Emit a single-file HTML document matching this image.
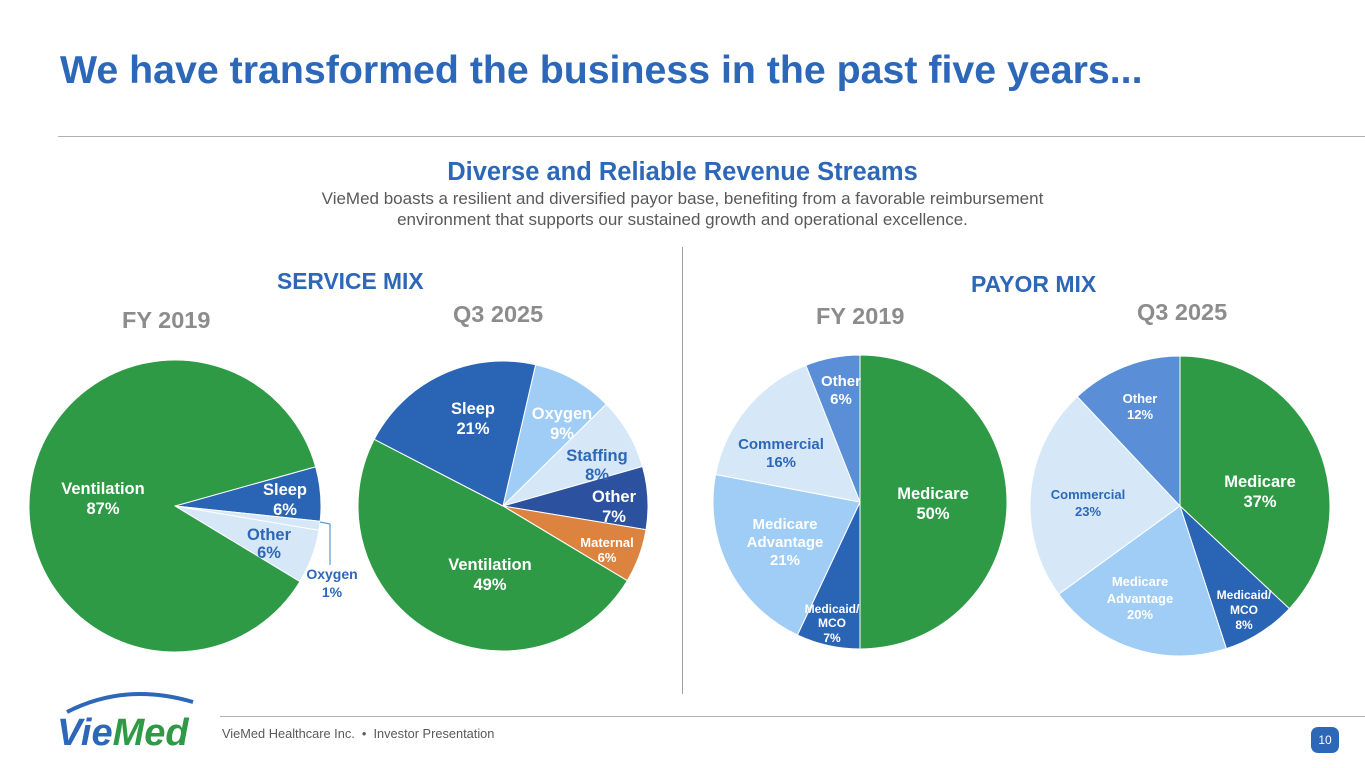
<!DOCTYPE html>
<html><head><meta charset="utf-8">
<style>
body{margin:0;width:1365px;height:768px;overflow:hidden;background:#fff;font-family:"Liberation Sans",Arial,sans-serif;position:relative}
.t{position:absolute;white-space:nowrap}
#chart text{font-family:"Liberation Sans",Arial,sans-serif;font-weight:bold;text-anchor:middle}
</style></head><body>
<div class="t" style="left:60px;top:48px;font-size:39.3px;font-weight:bold;color:#2d67b8">We have transformed the business in the past five years...</div>
<div style="position:absolute;left:58px;top:136px;width:1307px;height:1px;background:#b0b0b0"></div>
<div class="t" style="left:0;width:1365px;text-align:center;top:158px;font-size:25.5px;font-weight:bold;color:#2d67b8">Diverse and Reliable Revenue Streams</div>
<div class="t" style="left:0;width:1365px;text-align:center;top:188px;font-size:17px;color:#595959;line-height:21px">VieMed boasts a resilient and diversified payor base, benefiting from a favorable reimbursement<br>environment that supports our sustained growth and operational excellence.</div>
<div style="position:absolute;left:682px;top:247px;width:1px;height:447px;background:#a0a0a0"></div>
<div class="t" style="left:277px;top:268px;font-size:22.8px;font-weight:bold;color:#2d67b8">SERVICE MIX</div>
<div class="t" style="left:971px;top:271px;font-size:23px;font-weight:bold;color:#2d67b8">PAYOR MIX</div>
<div class="t" style="left:122px;top:307px;font-size:23.5px;font-weight:bold;color:#8c8c8c">FY 2019</div>
<div class="t" style="left:453px;top:301px;font-size:23.5px;font-weight:bold;color:#8c8c8c">Q3 2025</div>
<div class="t" style="left:816px;top:303px;font-size:23.5px;font-weight:bold;color:#8c8c8c">FY 2019</div>
<div class="t" style="left:1137px;top:299px;font-size:23.5px;font-weight:bold;color:#8c8c8c">Q3 2025</div>

<svg id="chart" width="1365" height="768" style="position:absolute;left:0;top:0">
<g id="slices"></g>
<g id="labels">
<text x="103" y="494" fill="#fff" font-size="16.5">Ventilation</text><text x="103" y="514" fill="#fff" font-size="16.5">87%</text>
<text x="285" y="495" fill="#fff" font-size="16.5">Sleep</text><text x="285" y="515" fill="#fff" font-size="16.5">6%</text>
<text x="269" y="540" fill="#2d67b8" font-size="16.5">Other</text><text x="269" y="558" fill="#2d67b8" font-size="16.5">6%</text>
<polyline points="320,522 330,524 330,565" fill="none" stroke="#5b9bd5" stroke-width="1.2"/>
<text x="332" y="579" fill="#2d67b8" font-size="14">Oxygen</text><text x="332" y="597" fill="#2d67b8" font-size="14">1%</text>
<text x="473" y="414" fill="#fff" font-size="16.5">Sleep</text><text x="473" y="434" fill="#fff" font-size="16.5">21%</text>
<text x="562" y="419" fill="#fff" font-size="16.5">Oxygen</text><text x="562" y="439" fill="#fff" font-size="16.5">9%</text>
<text x="597" y="461" fill="#2d67b8" font-size="16.5">Staffing</text><text x="597" y="480" fill="#2d67b8" font-size="16.5">8%</text>
<text x="614" y="502" fill="#fff" font-size="16.5">Other</text><text x="614" y="522" fill="#fff" font-size="16.5">7%</text>
<text x="607" y="547" fill="#fff" font-size="13">Maternal</text><text x="607" y="562" fill="#fff" font-size="13">6%</text>
<text x="490" y="570" fill="#fff" font-size="16.5">Ventilation</text><text x="490" y="590" fill="#fff" font-size="16.5">49%</text>
<text x="933" y="499" fill="#fff" font-size="16.5">Medicare</text><text x="933" y="519" fill="#fff" font-size="16.5">50%</text>
<text x="841" y="386" fill="#fff" font-size="15">Other</text><text x="841" y="404" fill="#fff" font-size="15">6%</text>
<text x="781" y="449" fill="#2d67b8" font-size="15">Commercial</text><text x="781" y="467" fill="#2d67b8" font-size="15">16%</text>
<text x="785" y="529" fill="#fff" font-size="15">Medicare</text><text x="785" y="547" fill="#fff" font-size="15">Advantage</text><text x="785" y="565" fill="#fff" font-size="15">21%</text>
<text x="832" y="613" fill="#fff" font-size="12">Medicaid/</text><text x="832" y="627" fill="#fff" font-size="12">MCO</text><text x="832" y="642" fill="#fff" font-size="12">7%</text>
<text x="1260" y="487" fill="#fff" font-size="16.5">Medicare</text><text x="1260" y="507" fill="#fff" font-size="16.5">37%</text>
<text x="1140" y="403" fill="#fff" font-size="13">Other</text><text x="1140" y="419" fill="#fff" font-size="13">12%</text>
<text x="1088" y="499" fill="#2d67b8" font-size="13">Commercial</text><text x="1088" y="516" fill="#2d67b8" font-size="13">23%</text>
<text x="1140" y="586" fill="#fff" font-size="13">Medicare</text><text x="1140" y="603" fill="#fff" font-size="13">Advantage</text><text x="1140" y="619" fill="#fff" font-size="13">20%</text>
<text x="1244" y="599" fill="#fff" font-size="12">Medicaid/</text><text x="1244" y="614" fill="#fff" font-size="12">MCO</text><text x="1244" y="629" fill="#fff" font-size="12">8%</text>
</g>
</svg>

<div style="position:absolute;left:55px;top:690px;width:150px;height:60px">
<svg width="150" height="60"><path d="M12,22 Q70,-8 138,12" fill="none" stroke="#2d67b8" stroke-width="4"/>
<text x="2" y="55" text-anchor="start" font-family="Liberation Sans,Arial,sans-serif" font-weight="bold" font-style="italic" font-size="38"><tspan fill="#2d67b8">Vie</tspan><tspan fill="#2e9a45">Med</tspan></text></svg></div>
<div style="position:absolute;left:220px;top:716px;width:1145px;height:1px;background:#b0b0b0"></div>
<div class="t" style="left:222px;top:726px;font-size:12.8px;color:#595959">VieMed Healthcare Inc. &nbsp;•&nbsp; Investor Presentation</div>
<div style="position:absolute;left:1311px;top:727px;width:28px;height:26px;border-radius:7px;background:#2d67b8;color:#fff;font-size:12px;text-align:center;line-height:26px">10</div>

<script>
const svc2019Cats=["Sleep","Oxygen","Other","Ventilation"];
const svc2019Vals=[6,1,6,87];
const svc2025Cats=["Oxygen","Staffing","Other","Maternal","Ventilation","Sleep"];
const svc2025Vals=[9,8,7,6,49,21];
const pay2019Cats=["Medicare","Medicaid/MCO","Medicare Advantage","Commercial","Other"];
const pay2019Vals=[50,7,21,16,6];
const pay2025Cats=["Medicare","Medicaid/MCO","Medicare Advantage","Commercial","Other"];
const pay2025Vals=[37,8,20,23,12];
const startAngles=[74.4,13,0,0];

const G="#2e9a45",DB="#2a64b4",LB="#9fcdf6",VL="#d6e8f7",MB="#5a8fd8",NV="#2c519e",OR="#dc843f";
const pies=[
 {cats:svc2019Cats,vals:svc2019Vals,cx:175,cy:506,r:146,colors:[DB,VL,VL,G],name:"service-fy2019"},
 {cats:svc2025Cats,vals:svc2025Vals,cx:503,cy:506,r:145,colors:[LB,VL,NV,OR,G,DB],name:"service-q3-2025"},
 {cats:pay2019Cats,vals:pay2019Vals,cx:860,cy:502,r:147,colors:[G,DB,LB,VL,MB],name:"payor-fy2019"},
 {cats:pay2025Cats,vals:pay2025Vals,cx:1180,cy:506,r:150,colors:[G,DB,LB,VL,MB],name:"payor-q3-2025"}
];
function pt(cx,cy,r,deg){const a=(deg-90)*Math.PI/180;return [cx+r*Math.cos(a),cy+r*Math.sin(a)];}
function angleScale(v,total){return v/total*360;}
const g=document.getElementById('slices');
pies.forEach((p,pi)=>{
 const total=p.vals.reduce((a,b)=>a+b,0);
 let a0=startAngles[pi];
 p.vals.forEach((v,i)=>{
  const sweep=angleScale(v,total),a1=a0+sweep;
  const s=pt(p.cx,p.cy,p.r,a0),e=pt(p.cx,p.cy,p.r,a1);
  const path=document.createElementNS("http://www.w3.org/2000/svg","path");
  path.setAttribute("d",`M${p.cx},${p.cy}L${s[0]},${s[1]}A${p.r},${p.r} 0 ${sweep>180?1:0} 1 ${e[0]},${e[1]}Z`);
  path.setAttribute("fill",p.colors[i]);
  path.setAttribute("stroke","#fff");
  path.setAttribute("stroke-width","1");
  
  
  g.appendChild(path);
  a0=a1;
 });
});
</script>
</body></html>
